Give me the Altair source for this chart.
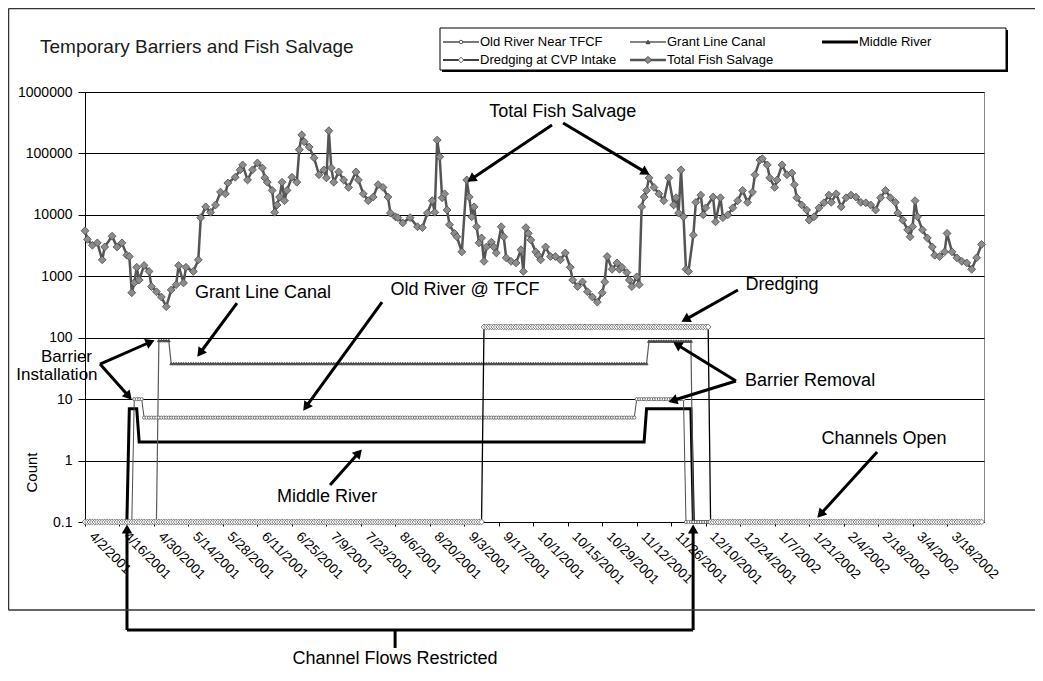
import math

import altair as alt
import numpy as np
import pandas as pd

FONT = "Liberation Sans"

chart_title = "Temporary Barriers and Fish Salvage"
series_names = ["Old River Near TFCF", "Grant Line Canal", "Middle River",
                "Dredging at CVP Intake", "Total Fish Salvage"]

first_day = "2001-04-02"
n_days = 365
tick_dates = ["2001-04-02", "2001-04-16", "2001-04-30", "2001-05-14", "2001-05-28",
              "2001-06-11", "2001-06-25", "2001-07-09", "2001-07-23", "2001-08-06",
              "2001-08-20", "2001-09-03", "2001-09-17", "2001-10-01", "2001-10-15",
              "2001-10-29", "2001-11-12", "2001-11-26", "2001-12-10", "2001-12-24",
              "2002-01-07", "2002-01-21", "2002-02-04", "2002-02-18", "2002-03-04",
              "2002-03-18"]
y_ticks = [0.1, 1, 10, 100, 1000, 10000, 100000, 1000000]

# barrier / dredging counts: day (counted from 4/2/2001) on which each level starts
old_river_start = [0, 20, 24, 224, 244]
old_river_level = [0.1, 10, 5, 10, 0.1]
grant_line_start = [0, 30, 35, 229, 247]
grant_line_level = [0.1, 90, 38, 88, 0.1]
middle_river_start = [0, 18, 22, 228, 247]
middle_river_level = [0.1, 7, 2, 7, 0.1]
dredging_start = [0, 162, 254]
dredging_level = [0.1, 150, 0.1]

# total fish salvage
salvage_day = [
    0, 1, 3, 5, 7, 8, 11, 13, 15, 17, 18, 19, 20, 21, 22, 24, 26, 27, 29, 31,
    33, 35, 37, 38, 40, 41, 44, 46, 47, 49, 51, 53, 55, 57, 58, 61, 63, 64, 66, 68,
    70, 72, 73, 74, 76, 77, 78, 79, 80, 81, 82, 84, 86, 87, 88, 89, 91, 93, 95, 97,
    98, 99, 100, 101, 103, 105, 107, 110, 111, 113, 115, 117, 119, 121, 123, 124, 126, 127, 129, 132,
    135, 137, 139, 141, 142, 143, 144, 145, 146, 147, 148, 150, 151, 153, 155, 156, 157, 158, 159, 160,
    161, 162, 163, 165, 166, 167, 169, 170, 171, 173, 175, 177, 178, 179, 180, 181, 183, 184, 185, 187,
    189, 191, 193, 195, 197, 198, 200, 202, 204, 206, 208, 210, 211, 212, 214, 216, 217, 218, 220, 221,
    222, 224, 225, 226, 227, 228, 229, 231, 233, 235, 237, 239, 240, 241, 242, 243, 244, 245, 247, 248,
    250, 251, 252, 255, 256, 258, 259, 261, 263, 265, 267, 269, 271, 272, 274, 275, 277, 278, 280, 281,
    283, 285, 287, 288, 289, 291, 293, 294, 296, 298, 300, 302, 303, 305, 307, 309, 311, 313, 315, 317,
    319, 321, 323, 325, 327, 329, 330, 332, 334, 335, 336, 337, 338, 340, 342, 344, 345, 347, 349, 350,
    352, 354, 356, 358, 360, 362, 364]
salvage_count = [
    5500, 4000, 3200, 3500, 1850, 3000, 4500, 3000, 3500, 2200, 2100, 540, 780, 1400, 870, 1500, 1200, 680, 560, 460,
    320, 600, 730, 1500, 780, 1400, 1200, 1850, 9000, 13500, 11000, 14500, 23500, 22000, 33000, 41000, 54000, 65000, 37000, 54000,
    70000, 58000, 40000, 34000, 25000, 11000, 14500, 19500, 34000, 17000, 25000, 41000, 34000, 115000, 200000, 155000, 127000, 85000, 45000, 54000,
    40000, 234000, 58000, 34000, 50000, 37000, 28000, 50000, 37000, 22000, 17000, 19500, 31000, 28000, 19500, 10700, 9300, 9000, 7400, 9000,
    6400, 6200, 10700, 17000, 11000, 165000, 88000, 19000, 22000, 12000, 6900, 5000, 4400, 2500, 37000, 19500, 9300, 13500, 6400, 3500,
    4200, 1750, 3000, 3600, 3000, 2400, 6400, 4400, 2000, 1750, 1650, 2700, 1200, 6200, 5000, 3900, 2500, 2200, 1850, 3000,
    2100, 2100, 1850, 2400, 1400, 870, 680, 810, 560, 460, 380, 540, 810, 2100, 1300, 1650, 1300, 1400, 1150, 870,
    680, 980, 730, 13500, 19500, 25000, 40000, 28000, 22000, 17000, 40000, 14500, 19000, 10700, 54000, 9300, 1300, 1200, 4700, 16000,
    21000, 10000, 13000, 19500, 7700, 19000, 9000, 10000, 13000, 17000, 25000, 16000, 23500, 45000, 78000, 82000, 65000, 40000, 28000, 37000,
    65000, 45000, 48000, 31000, 19000, 14500, 12000, 8200, 9300, 13000, 15700, 21000, 16000, 22000, 13500, 19000, 21000, 19500, 16000, 15700,
    14500, 12000, 19000, 25000, 19000, 16000, 10700, 8200, 5700, 4400, 6400, 17000, 9300, 5700, 4200, 3000, 2200, 2100, 2500, 5000,
    2500, 2000, 1750, 1650, 1300, 2000, 3300]

# call-outs, placed in data units (day from 4/2/2001, count)
note_text = ["Total Fish Salvage", "Grant Line Canal", "Old River @ TFCF", "Barrier", "Installation",
             "Middle River", "Dredging", "Barrier Removal", "Channels Open", "Channel Flows Restricted"]
note_day = [194, 72.3, 154.3, -7.5, -11.4, 98.3, 283, 294.4, 324.4, 125.9]
note_value = [470000, 535, 598, 48.5, 24.7, 0.255, 721, 19.7, 2.24, 0.00059]
note_size = [18, 18, 18, 17, 17, 18, 18, 18, 18, 18]

arrow_day = [189.6, 194.1, 61.7, 120.6, 6.1, 6.1, 99.5, 265.1, 264.3, 264.3, 321.6, 17.05, 246.9, 17.05, 125.9]
arrow_value = [290000, 313000, 367, 381, 37.3, 37.3, 0.40, 598, 19.7, 19.7, 1.38,
               0.001745, 0.001745, 0.001745, 0.001745]
arrow_day2 = [155.1, 229.4, 45.5, 88.5, 28.4, 19.1, 112.5, 242, 238.7, 236.7, 297.2, 17.05, 246.9, 246.9, 125.9]
arrow_value2 = [34300, 44600, 48.5, 6.41, 91.8, 9.68, 1.54, 180, 85.1, 8.98, 0.116,
                0.0928, 0.0928, 0.001745, 0.00089]
arrow_head = [True] * 13 + [False, False]

styles = {
    "Old River Near TFCF": dict(line="#4d4d4d", width=1, shape="circle", size=10, fill="white", stroke="#555555"),
    "Grant Line Canal": dict(line="#5a5a5a", width=1.2, shape="triangle-up", size=9, fill="#4a4a4a", stroke="#4a4a4a"),
    "Middle River": dict(line="black", width=3, shape=None),
    "Dredging at CVP Intake": dict(line="black", width=1.3, shape="diamond", size=34, fill="white", stroke="#5a5a5a"),
    "Total Fish Salvage": dict(line="#555555", width=2.5, shape="diamond", size=62, fill="#8c8c8c", stroke="#4a4a4a"),
}

PLOT_W, PLOT_H = 899, 430
START = pd.Timestamp(first_day, tz="UTC")
PX_DAY = PLOT_W / n_days
PX_DEC = PLOT_H / 7.0


def to_iso(days):
    return [(START + pd.Timedelta(days=float(d))).strftime("%Y-%m-%dT%H:%M:%SZ") for d in days]


def to_ms(stamp):
    return int(stamp.value // 10**6)


def to_px(day, value):
    return day * PX_DAY, (6 - math.log10(value)) * PX_DEC


def from_px(x, y):
    return x / PX_DAY, 10 ** (6 - y / PX_DEC)


def daily_levels(starts, levels):
    days = np.arange(n_days)
    idx = np.searchsorted(starts, days, side="right") - 1
    return pd.DataFrame({"date": to_iso(days), "count": np.asarray(levels, dtype=float)[idx]})


x_scale = alt.Scale(type="utc", domain=[to_ms(START), to_ms(START + pd.Timedelta(days=n_days))])
y_scale = alt.Scale(type="log", domain=[0.1, 1000000], nice=False)

x_axis = alt.Axis(values=[to_ms(pd.Timestamp(d, tz="UTC")) for d in tick_dates],
                  labelExpr="utcFormat(datum.value, '%-m/%-d/%Y')", labelAngle=45, labelAlign="left",
                  labelBaseline="middle", labelPadding=8, labelOffset=6, labelFontSize=13.5,
                  labelFlush=False, labelOverlap=False, tickSize=4, grid=False, title=None)
y_axis = alt.Axis(values=y_ticks, labelExpr="datum.value < 1 ? '0.1' : format(datum.value, 'd')",
                  grid=True, gridColor="black", gridWidth=1, tickSize=7, labelFontSize=14,
                  labelPadding=6, labelOverlap=False, title="Count", titleFontSize=15,
                  titleFontWeight="normal", titleX=-54, titleY=380, titleAngle=270,
                  titleAlign="center", titleBaseline="middle")


def on_axes(chart):
    return chart.encode(x=alt.X("date:T", scale=x_scale, axis=x_axis),
                        y=alt.Y("count:Q", scale=y_scale, axis=y_axis))


def series_layers(name, df):
    st = styles[name]
    out = [on_axes(alt.Chart(df).mark_line(color=st["line"], strokeWidth=st["width"]))]
    if st["shape"]:
        out.append(on_axes(alt.Chart(df).mark_point(
            shape=st["shape"], size=st["size"], filled=True, fill=st["fill"],
            stroke=st["stroke"], strokeWidth=0.8, opacity=1)))
    return out


# drawing order: the thick Middle River line goes under the marker series
frames = {
    "Middle River": daily_levels(middle_river_start, middle_river_level),
    "Grant Line Canal": daily_levels(grant_line_start, grant_line_level),
    "Old River Near TFCF": daily_levels(old_river_start, old_river_level),
    "Dredging at CVP Intake": daily_levels(dredging_start, dredging_level),
    "Total Fish Salvage": pd.DataFrame({"date": to_iso(salvage_day), "count": salvage_count}),
}

layers = []
for name, df in frames.items():
    layers += series_layers(name, df)

# arrows: shaft stops at the arrow head, head turned along the shaft
rows, heads = [], []
for d1, v1, d2, v2, has_head in zip(arrow_day, arrow_value, arrow_day2, arrow_value2, arrow_head):
    x1, y1 = to_px(d1, v1)
    x2, y2 = to_px(d2, v2)
    if has_head:
        length = math.hypot(x2 - x1, y2 - y1)
        ux, uy = (x2 - x1) / length, (y2 - y1) / length
        hx, hy = x2 - 5 * ux, y2 - 5 * uy
        hd, hv = from_px(hx, hy)
        heads.append({"date": to_iso([hd])[0], "count": hv,
                      "angle": math.degrees(math.atan2(ux, -uy)) % 360})
        d2, v2 = hd, hv
    rows.append({"date": to_iso([d1])[0], "count": v1, "date2": to_iso([d2])[0], "count2": v2})

layers.append(on_axes(alt.Chart(pd.DataFrame(rows)).mark_rule(color="black", strokeWidth=3)).encode(
    x2="date2:T", y2="count2:Q"))
layers.append(on_axes(alt.Chart(pd.DataFrame(heads)).mark_point(
    shape="triangle-up", size=110, filled=True, color="black", opacity=1)).encode(
    angle=alt.Angle("angle:Q", scale=None)))

notes = pd.DataFrame({"date": to_iso(note_day), "count": note_value, "text": note_text,
                      "size": note_size})
layers.append(on_axes(alt.Chart(notes).mark_text(color="black", align="center",
                                                  baseline="middle")).encode(
    text="text:N", size=alt.Size("size:Q", scale=None, legend=None)))

# chart frame, title and legend box (pixel positions relative to the plot area)
one = pd.DataFrame({"k": [0]})
layers += [
    alt.Chart(one).mark_rule(color="#333333", strokeWidth=1.5).encode(
        x=alt.value(-76.5), x2=alt.value(950), y=alt.value(-83.5)),
    alt.Chart(one).mark_rule(color="#333333", strokeWidth=1.5).encode(
        x=alt.value(-76.5), x2=alt.value(950), y=alt.value(518)),
    alt.Chart(one).mark_rule(color="#333333", strokeWidth=1.5).encode(
        x=alt.value(-76.5), y=alt.value(-83.5), y2=alt.value(518)),
    alt.Chart(one).mark_text(fontSize=19, color="#1a1a1a", align="left", baseline="middle").encode(
        x=alt.value(-45), y=alt.value(-45), text=alt.value(chart_title)),
    alt.Chart(one).mark_rect(color="black").encode(
        x=alt.value(357), x2=alt.value(923), y=alt.value(-62), y2=alt.value(-20)),
    alt.Chart(one).mark_rect(fill="white", stroke="black", strokeWidth=1).encode(
        x=alt.value(355), x2=alt.value(921), y=alt.value(-64), y2=alt.value(-22)),
]

legend_x = [358, 545, 737]
legend_y = [-50, -32]
legend_marker_size = {"Old River Near TFCF": 12, "Grant Line Canal": 16,
                      "Dredging at CVP Intake": 30, "Total Fish Salvage": 50}
for i, name in enumerate(series_names):
    st = styles[name]
    sx = legend_x[i % 3]
    sy = legend_y[i // 3]
    layers.append(alt.Chart(one).mark_rule(color=st["line"], strokeWidth=max(st["width"], 1.5)).encode(
        x=alt.value(sx), x2=alt.value(sx + 36), y=alt.value(sy)))
    if st["shape"]:
        layers.append(alt.Chart(one).mark_point(
            shape=st["shape"], size=legend_marker_size[name], filled=True, fill=st["fill"],
            stroke=st["stroke"], strokeWidth=1, opacity=1).encode(
            x=alt.value(sx + 18), y=alt.value(sy)))
    layers.append(alt.Chart(one).mark_text(fontSize=13, color="black", align="left",
                                           baseline="middle").encode(
        x=alt.value(sx + 37), y=alt.value(sy), text=alt.value(name)))

chart = alt.layer(*layers).properties(
    width=PLOT_W, height=PLOT_H,
    autosize=alt.AutoSizeParams(type="none"),
    padding={"left": 77, "top": 84, "right": 51, "bottom": 146},
).configure_view(
    stroke="#888888", strokeWidth=1
).configure_axis(
    domainColor="black", tickColor="black", labelColor="black", titleColor="black",
    labelFont=FONT, titleFont=FONT
).configure_text(font=FONT)

chart.save("out.html", embed_options={"renderer": "svg", "actions": False})
